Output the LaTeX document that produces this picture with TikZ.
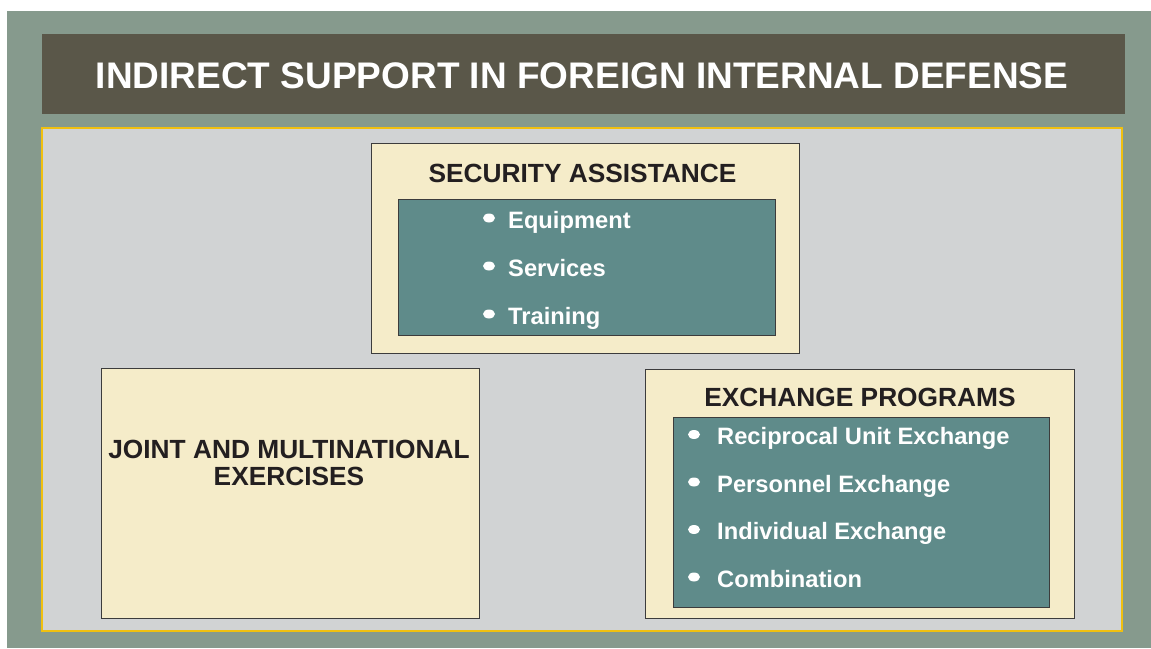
\documentclass[tikz,border=0pt]{standalone}
\usepackage{fontspec}
\setmainfont{Liberation Sans}
\usetikzlibrary{shapes.geometric}
\definecolor{outergreen}{HTML}{869A8D}
\definecolor{titlebar}{HTML}{5A5749}
\definecolor{panelgray}{HTML}{D1D3D4}
\definecolor{paneledge}{HTML}{F0C010}
\definecolor{cream}{HTML}{F5ECC9}
\definecolor{tealbox}{HTML}{5F8B8A}
\definecolor{boxedge}{HTML}{3C3C3C}
\definecolor{darktext}{HTML}{231F20}
\tikzset{
  box/.style={draw=boxedge, line width=1pt, fill=cream, inner sep=0pt, outer sep=0pt},
  listbox/.style={draw=boxedge, line width=0.9pt, fill=tealbox, inner sep=0pt, outer sep=0pt},
  head/.style={anchor=base, text=darktext, inner sep=0pt, font=\fontsize{26.3}{27}\selectfont\bfseries},
  item/.style={anchor=base west, text=white, inner sep=0pt, font=\fontsize{23.7}{28}\selectfont\bfseries},
  dot/.style={ellipse, fill=white, draw=none, inner sep=0pt, minimum width=12pt, minimum height=9pt}
}
\begin{document}
\begin{tikzpicture}[x=1pt,y=-1pt]
\useasboundingbox (0,0) rectangle (1151,648);
\fill[white] (0,0) rectangle (1151,648);
\fill[outergreen] (7,11) rectangle (1151,648);
% title bar
\node[fill=titlebar, inner sep=0pt, minimum width=1083pt, minimum height=80pt] (bar) at (583.5,74) {};
\node[anchor=base, text=white, inner sep=0pt, font=\fontsize{37}{40}\selectfont\bfseries] (title) at (582,88) {INDIRECT SUPPORT IN FOREIGN INTERNAL DEFENSE};
% panel
\node[fill=panelgray, draw=paneledge, line width=1.5pt, inner sep=0pt, minimum width=1080pt, minimum height=503pt] (panel) at (582,379.5) {};
% security assistance
\node[box, minimum width=428pt, minimum height=210pt] (sa) at (585,248) {};
\node[head] (sahead) at (582.5,182) {SECURITY ASSISTANCE};
\node[listbox, minimum width=377pt, minimum height=136pt] (salist) at (586.5,267) {};
\node[dot] (sab1) at (489,218) {};
\node[item] (sai1) at (508,228) {Equipment};
\node[dot] (sab2) at (489,266) {};
\node[item] (sai2) at (508,276) {Services};
\node[dot] (sab3) at (489,314) {};
\node[item] (sai3) at (508,324) {Training};
% joint
\node[box, minimum width=378pt, minimum height=250pt] (joint) at (290,493) {};
\node[text=darktext, inner sep=0pt, align=center, font=\fontsize{26.3}{27}\selectfont\bfseries] (jointtext) at (289,463) {JOINT AND MULTINATIONAL\\EXERCISES};
% exchange programs
\node[box, minimum width=429pt, minimum height=249pt] (ep) at (859.5,493.5) {};
\node[head] (ephead) at (860,406) {EXCHANGE PROGRAMS};
\node[listbox, minimum width=376pt, minimum height=190pt] (eplist) at (861,512) {};
\node[dot] (epb1) at (694,434.5) {};
\node[item] (epi1) at (717,444) {Reciprocal Unit Exchange};
\node[dot] (epb2) at (694,482) {};
\node[item] (epi2) at (717,492) {Personnel Exchange};
\node[dot] (epb3) at (694,529.5) {};
\node[item] (epi3) at (717,539) {Individual Exchange};
\node[dot] (epb4) at (694,577) {};
\node[item] (epi4) at (717,587) {Combination};
\end{tikzpicture}
\end{document}
